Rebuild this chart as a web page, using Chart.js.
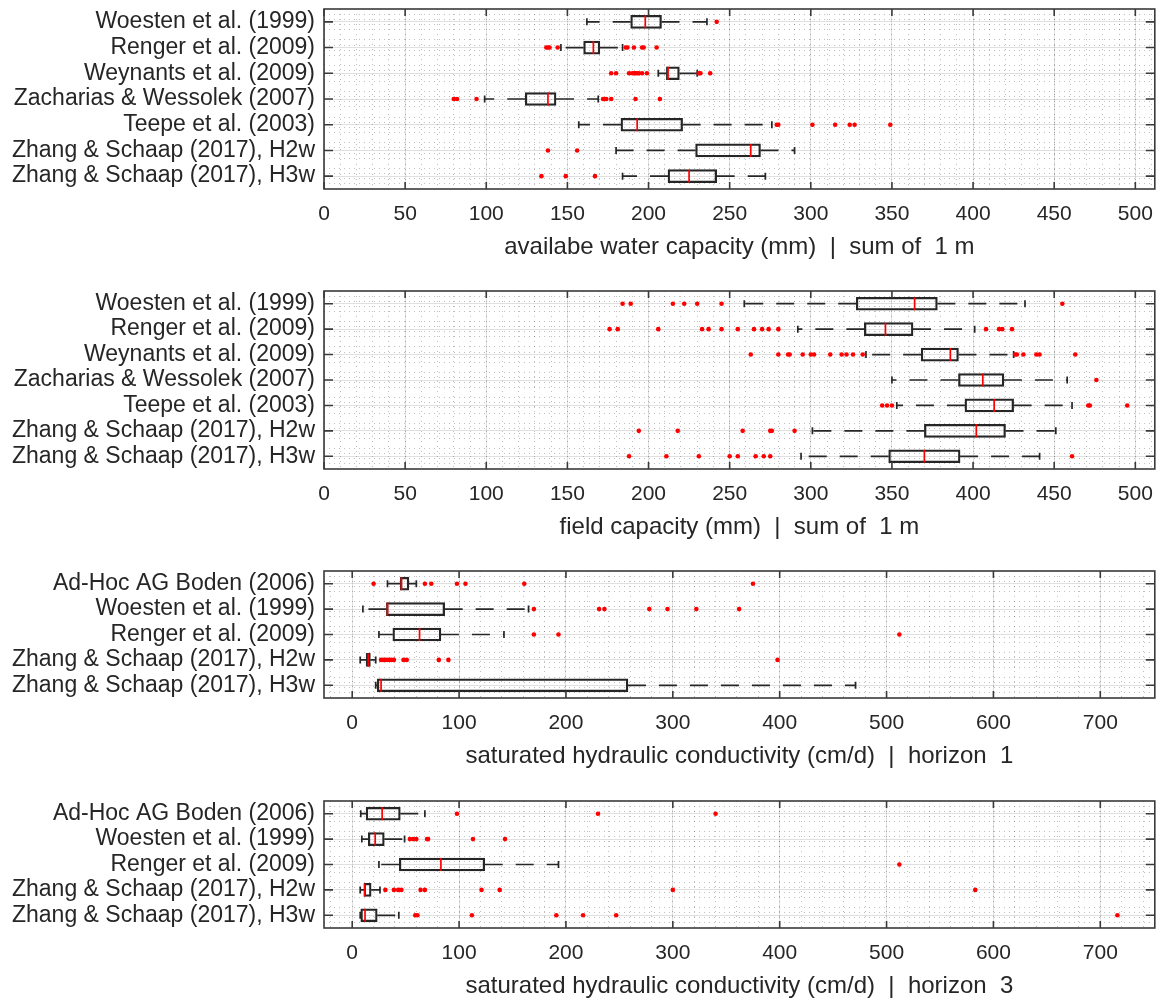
<!DOCTYPE html>
<html>
<head>
<meta charset="utf-8">
<script src="https://cdn.jsdelivr.net/npm/chart.js@4.4.0/dist/chart.umd.min.js"></script>
<style>
  html, body { margin: 0; padding: 0; background: #fff; overflow: hidden; }
  #wrap { position: relative; width: 1163px; height: 1000px; }
  canvas { position: absolute; left: 0; }
</style>
</head>
<body>
<div id="wrap">
  <canvas id="p1"></canvas>
  <canvas id="p2"></canvas>
  <canvas id="p3"></canvas>
  <canvas id="p4"></canvas>
</div>
<script>
// ---- data ----
var pedoLabels = ['Woesten et al. (1999)', 'Renger et al. (2009)', 'Weynants et al. (2009)',
  'Zacharias & Wessolek (2007)', 'Teepe et al. (2003)',
  'Zhang & Schaap (2017), H2w', 'Zhang & Schaap (2017), H3w'];
var ksLabels = ['Ad-Hoc AG Boden (2006)', 'Woesten et al. (1999)', 'Renger et al. (2009)',
  'Zhang & Schaap (2017), H2w', 'Zhang & Schaap (2017), H3w'];

var mmTicks = [0, 50, 100, 150, 200, 250, 300, 350, 400, 450, 500];
var ksTicks = [0, 100, 200, 300, 400, 500, 600, 700];

// available water capacity (mm)
var awcLow  = [162, 146, 206,  99, 157, 180, 184];
var awcQ1   = [189, 160, 211, 124, 183, 229, 212];
var awcMed  = [198, 166, 212, 138, 193, 263, 225];
var awcQ3   = [208, 170, 219, 143, 221, 269, 242];
var awcHigh = [236, 184, 230, 169, 276, 290, 272];
var awcOut  = [
  [242],
  [137, 138, 139, 144, 186, 187, 191, 196, 197, 205],
  [177, 180, 188, 190, 191, 192, 193, 194, 196, 199, 231, 232, 238],
  [80, 82, 94, 172, 173, 174, 177, 192, 207],
  [279, 280, 301, 315, 324, 327, 349],
  [138, 156],
  [134, 149, 167]
];

// field capacity (mm)
var fcLow  = [259, 292, 334, 350, 353, 301, 294];
var fcQ1   = [328, 333, 368, 391, 395, 370, 348];
var fcMed  = [364, 346, 386, 406, 413, 402, 370];
var fcQ3   = [378, 363, 391, 419, 425, 420, 392];
var fcHigh = [432, 401, 425, 458, 461, 451, 441];
var fcOut  = [
  [184, 189, 215, 222, 230, 245, 455],
  [176, 181, 206, 233, 237, 245, 255, 265, 270, 274, 280, 408, 416, 418, 424],
  [263, 280, 286, 287, 295, 300, 302, 312, 319, 322, 326, 332, 426, 427, 431, 439, 441, 463],
  [476],
  [344, 347, 350, 471, 472, 495],
  [194, 218, 258, 275, 276, 290],
  [188, 211, 231, 250, 255, 266, 271, 275, 461]
];

// saturated hydraulic conductivity (cm/d), horizon 1
var ks1Low  = [33, 10, 25, 7.5, 22];
var ks1Q1   = [45, 32, 38, 13, 23.4];
var ks1Med  = [46, 33, 63, 15, 27];
var ks1Q3   = [53, 86.5, 83, 17, 258];
var ks1High = [60, 165, 142, 22, 471];
var ks1Out  = [
  [20, 68, 74, 98, 106, 161, 375],
  [170, 231, 236, 278, 295, 322, 362],
  [170, 193, 512],
  [27, 29, 31, 33, 35, 37, 39, 48, 51, 81, 90, 398],
  []
];

// saturated hydraulic conductivity (cm/d), horizon 3
var ks3Low  = [8, 9, 25, 7.5, 7.5];
var ks3Q1   = [13, 15, 44, 11, 8];
var ks3Med  = [28, 21.5, 83, 11.6, 12];
var ks3Q3   = [45, 30, 124, 17.7, 23.4];
var ks3High = [68, 49, 193, 26, 43.6];
var ks3Out  = [
  [98, 230, 340],
  [54, 57, 60, 70, 71, 113, 143],
  [512],
  [31, 39, 43, 46, 64, 68, 121, 138, 300, 583],
  [59, 61, 112, 191, 216, 247, 716]
];

// ---- drawing ----
var FONT = "'Liberation Sans', Arial, Helvetica, sans-serif";
var TXT = '#262626';
var INK = '#262626';
var PAD_TOP = 9, BELOW = 77;

// MATLAB-like box outline with inward ticks
var axesBox = {
  id: 'axesBox',
  afterDatasetsDraw: function (chart) {
    var a = chart.chartArea, ctx = chart.ctx;
    var sx = chart.scales.x, sy = chart.scales.y;
    ctx.save();
    ctx.strokeStyle = '#3a3a3a';
    ctx.lineWidth = 1.6;
    ctx.beginPath();
    sx.ticks.forEach(function (t) {
      var px = sx.getPixelForValue(t.value);
      ctx.moveTo(px, a.bottom); ctx.lineTo(px, a.bottom - 7);
      ctx.moveTo(px, a.top); ctx.lineTo(px, a.top + 7);
    });
    sy.ticks.forEach(function (t) {
      var py = sy.getPixelForValue(t.value);
      ctx.moveTo(a.left, py); ctx.lineTo(a.left + 9, py);
      ctx.moveTo(a.right, py); ctx.lineTo(a.right - 9, py);
    });
    ctx.stroke();
    ctx.strokeRect(a.left, a.top, a.right - a.left, a.bottom - a.top);
    ctx.restore();
  }
};

function panel(id, areaTop, areaH, labels, low, q1, med, q3, high, out,
               xmin, xmax, ticks, minorStep, title) {
  var cv = document.getElementById(id);
  cv.width = 1163;
  cv.height = PAD_TOP + areaH + BELOW;
  cv.style.top = (areaTop - PAD_TOP) + 'px';
  var n = labels.length;
  var rows = labels.map(function (_, i) { return i + 1; });

  var datasets = [];
  datasets.push({
    type: 'bar', indexAxis: 'y', order: 1,
    data: rows.map(function (r) { return { y: r, x: [q1[r - 1], q3[r - 1]] }; }),
    backgroundColor: 'rgba(0,0,0,0)', borderColor: INK, borderWidth: 1.6,
    borderSkipped: false, barThickness: 13
  });
  rows.forEach(function (r) {
    var i = r - 1;
    [[q1[i], low[i]], [q3[i], high[i]]].forEach(function (seg) {
      datasets.push({
        type: 'line', order: 2,
        data: [{ x: seg[0], y: r }, { x: seg[1], y: r }],
        borderColor: INK, borderWidth: 1.7, borderDash: [18, 13],
        pointRadius: 0, fill: false
      });
    });
  });
  datasets.push({
    type: 'scatter', order: 2,
    data: rows.map(function (r) { return { x: low[r - 1], y: r }; })
      .concat(rows.map(function (r) { return { x: high[r - 1], y: r }; })),
    pointStyle: 'line', rotation: 90, pointRadius: 3.5,
    borderColor: INK, borderWidth: 1.7
  });
  datasets.push({
    type: 'scatter', order: 0,
    data: rows.map(function (r) { return { x: med[r - 1], y: r }; }),
    pointStyle: 'line', rotation: 90, pointRadius: 6.5,
    borderColor: '#ff0000', borderWidth: 1.7
  });
  var pts = [];
  out.forEach(function (list, i) {
    list.forEach(function (v) { pts.push({ x: v, y: i + 1 }); });
  });
  datasets.push({
    type: 'scatter', order: 0, data: pts,
    pointRadius: 2.3, backgroundColor: '#ff0000', borderWidth: 0
  });

  var minorX = [];
  for (var v = Math.ceil(xmin / minorStep) * minorStep; v <= xmax; v += minorStep) minorX.push(v);
  var minorY = [];
  for (var k = 1; k < n * 5; k++) if (k % 5 !== 0) minorY.push(0.5 + k * 0.2);

  new Chart(cv, {
    type: 'bar',
    data: { datasets: datasets },
    plugins: [axesBox],
    options: {
      responsive: false, animation: false,
      layout: { padding: { top: PAD_TOP, left: 0, right: 6, bottom: 0 } },
      plugins: { legend: { display: false }, tooltip: { enabled: false } },
      scales: {
        x: {
          type: 'linear', min: xmin, max: xmax, position: 'bottom', weight: 1, offset: false,
          afterBuildTicks: function (s) { s.ticks = ticks.map(function (t) { return { value: t }; }); },
          afterFit: function (s) { s.height = BELOW; s.paddingLeft = 0; s.paddingRight = 0; },
          grid: { color: 'rgba(0,0,0,0.12)', lineWidth: 1, drawTicks: false, offset: false },
          border: { display: false },
          ticks: { padding: 13, color: TXT, font: { family: FONT, size: 21 }, maxRotation: 0, autoSkip: false },
          title: { display: true, text: title, color: TXT, font: { family: FONT, size: 24 }, padding: { top: 0, bottom: 4 } }
        },
        xm: {
          type: 'linear', min: xmin, max: xmax, position: 'bottom', weight: 0, offset: false,
          afterBuildTicks: function (s) { s.ticks = minorX.map(function (t) { return { value: t }; }); },
          afterFit: function (s) { s.height = 0; s.paddingLeft = 0; s.paddingRight = 0; },
          ticks: { display: false },
          grid: { color: 'rgba(0,0,0,0.25)', lineWidth: 1, drawTicks: false, offset: false },
          border: { display: false, dash: [1, 4] }
        },
        y: {
          type: 'linear', min: 0.5, max: n + 0.5, reverse: true, position: 'left', weight: 1, offset: false,
          afterBuildTicks: function (s) { s.ticks = rows.map(function (r) { return { value: r }; }); },
          afterFit: function (s) { s.width = 324; s.paddingTop = 0; s.paddingBottom = 0; },
          grid: { color: 'rgba(0,0,0,0.12)', lineWidth: 1, drawTicks: false, offset: false },
          border: { display: false },
          ticks: {
            padding: 9, color: TXT, font: { family: FONT, size: 23 }, autoSkip: false,
            callback: function (val) { return labels[val - 1]; }
          }
        },
        ym: {
          type: 'linear', min: 0.5, max: n + 0.5, reverse: true, position: 'left', weight: 0, offset: false,
          afterBuildTicks: function (s) { s.ticks = minorY.map(function (t) { return { value: t }; }); },
          afterFit: function (s) { s.width = 0; s.paddingTop = 0; s.paddingBottom = 0; },
          ticks: { display: false },
          grid: { color: 'rgba(0,0,0,0.25)', lineWidth: 1, drawTicks: false, offset: false },
          border: { display: false, dash: [1, 4] }
        }
      }
    }
  });
}

panel('p1', 9, 180, pedoLabels, awcLow, awcQ1, awcMed, awcQ3, awcHigh, awcOut,
      0, 512, mmTicks, 10, 'availabe water capacity (mm)  |  sum of  1 m');
panel('p2', 291, 178, pedoLabels, fcLow, fcQ1, fcMed, fcQ3, fcHigh, fcOut,
      0, 512, mmTicks, 10, 'field capacity (mm)  |  sum of  1 m');
panel('p3', 571, 127, ksLabels, ks1Low, ks1Q1, ks1Med, ks1Q3, ks1High, ks1Out,
      -26.4, 751, ksTicks, 20, 'saturated hydraulic conductivity (cm/d)  |  horizon  1');
panel('p4', 801, 127, ksLabels, ks3Low, ks3Q1, ks3Med, ks3Q3, ks3High, ks3Out,
      -26.4, 751, ksTicks, 20, 'saturated hydraulic conductivity (cm/d)  |  horizon  3');
</script>
</body>
</html>
